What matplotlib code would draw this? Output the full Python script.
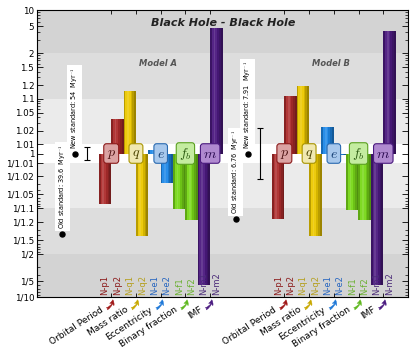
import numpy as np
import matplotlib
matplotlib.use('Agg')
import matplotlib.pyplot as plt
import matplotlib.colors as mcolors
from matplotlib.ticker import FixedLocator, FixedFormatter, NullFormatter

plt.rcParams['mathtext.fontset'] = 'cm'

# ---------------- data ----------------
categories = ['N-p1', 'N-p2', 'N-q1', 'N-q2', 'N-e1', 'N-e2', 'N-f1', 'N-f2', 'N-m1', 'N-m2']
group_names = ['Orbital Period', 'Mass ratio', 'Eccentricity', 'Binary fraction', 'IMF']
group_symbols = ['$p$', '$q$', '$e$', '$f_b$', '$m$']
model_names = ['Model A', 'Model B']
model_a = [0.925, 1.037, 1.153, 0.706, 1.004, 0.973, 0.906, 0.843, 0.168, 4.59]
model_b = [0.855, 1.117, 1.197, 0.706, 1.024, 0.998, 0.902, 0.843, 0.173, 4.18]
old_rate = [39.6, 6.76]
new_rate = [54, 7.91]
new_err = [0.4, 0.18]
ytick_values = [10, 5, 2, 1.5, 1.2, 1.1, 1.05, 1.02, 1.01, 1,
                1/1.01, 1/1.02, 1/1.05, 1/1.1, 1/1.2, 1/1.5, 1/2, 1/5, 1/10]
ytick_labels = ['10', '5', '2', '1.5', '1.2', '1.1', '1.05', '1.02', '1.01', '1',
                '1/1.01', '1/1.02', '1/1.05', '1/1.1', '1/1.2', '1/1.5', '1/2', '1/5', '1/10']

# ---------------- styles ----------------
bar_colors = ['#ad2c2c', '#ecc800', '#1e88e8', '#78d818', '#4c1a80']
tick_colors = ['#8b1a1a', '#b5a020', '#2866c0', '#6ab030', '#4a2a78']
box_face = ['#dba3a3', '#f0e8b0', '#a8c8ec', '#c4eca0', '#b08ad0']
box_edge = ['#8b1a1a', '#a89400', '#2a6ab0', '#5aa020', '#4a1a7e']
sym_color = ['#4a1010', '#4a4200', '#103a70', '#2a5a10', '#2a0a50']
arrow_colors = ['#a01818', '#c8a800', '#1e78d8', '#60b820', '#4a1a80']

H = 0.2


def fwd(v):
    v = np.clip(np.nan_to_num(np.asarray(v, dtype=float), nan=1.0), 1e-6, 1e6)
    r = np.where(v >= 1, v, 1.0 / v)
    u = r - 1.0
    s = np.sign(v - 1.0)
    t = np.where(u >= 0.01, H + np.log10(np.maximum(u, 1e-12)) + 2.0, H * u / 0.01)
    return s * t


def inv(t):
    t = np.clip(np.nan_to_num(np.asarray(t, dtype=float)), -10, 10)
    a = np.abs(t)
    u = np.where(a >= H, 10.0 ** (a - H - 2.0), 0.01 * a / H)
    r = 1.0 + u
    return np.where(t >= 0, r, 1.0 / r)


def shade(c, f):
    rgb = np.array(mcolors.to_rgb(c))
    if f >= 1:
        rgb = rgb + (1 - rgb) * (f - 1)
    else:
        rgb = rgb * f
    return tuple(np.clip(rgb, 0, 1))


fig = plt.figure(figsize=(4.15, 3.56), dpi=100)
ax = fig.add_axes([0.0892, 0.1657, 0.8940, 0.8062])
ax.set_xlim(-5.5, 24.5)
ax.set_ylim(0.1, 10)
ax.set_yscale('function', functions=(fwd, inv))
ax.set_ylim(0.1, 10)
ax.set_autoscale_on(False)

# background bands
bands = [(2, 10, '#d3d3d3'), (1.1, 2, '#dddddd'), (1.01, 1.1, '#ebebeb'),
         (1/1.01, 1.01, '#ffffff'), (1/1.1, 1/1.01, '#ebebeb'),
         (1/2, 1/1.1, '#dddddd'), (1/10, 1/2, '#d3d3d3')]
for lo, hi, c in bands:
    ax.axhspan(lo, hi, color=c, zorder=0, lw=0)

offsets = [0, 14]
models = [model_a, model_b]
profile = [0.78, 1.05, 1.15, 1.05, 0.9, 0.78, 0.66]
nstr = len(profile)

for off, vals in zip(offsets, models):
    for i, v in enumerate(vals):
        g = i // 2
        x0 = off + i - 0.5
        for k, f in enumerate(profile):
            ax.bar(x0 + (k + 0.5) / nstr, v - 1, bottom=1, width=1.0 / nstr + 0.01,
                   color=shade(bar_colors[g], f), lw=0, zorder=2, align='center')
        ax.text(off + i, 0.006, categories[i], transform=ax.get_xaxis_transform(),
                rotation=90, ha='center', va='bottom', fontsize=6,
                color=tick_colors[g], zorder=5)
    for g in range(5):
        gx = off + 2 * g + 0.5
        ax.text(gx, 1, group_symbols[g], ha='center', va='center', fontsize=10,
                color=sym_color[g], zorder=6,
                bbox=dict(boxstyle='round,pad=0.2', fc=box_face[g], ec=box_edge[g], lw=0.8))
        ax.annotate('', xy=(gx + 0.1, 0), xycoords=ax.get_xaxis_transform(),
                    xytext=(-4, -8.5), textcoords='offset points',
                    arrowprops=dict(arrowstyle='fancy,head_length=0.5,head_width=0.5,tail_width=0.25',
                                    fc=arrow_colors[g], ec=arrow_colors[g], lw=0.3,
                                    connectionstyle='arc3,rad=0.4', shrinkA=0, shrinkB=2,
                                    mutation_scale=7),
                    annotation_clip=False)
        ax.annotate(group_names[g], xy=(gx, 0), xycoords=ax.get_xaxis_transform(),
                    xytext=(-6.3, -8.5), textcoords='offset points',
                    ha='right', va='center', rotation=33, rotation_mode='anchor',
                    fontsize=6.5, annotation_clip=False)

for m, off in enumerate(offsets):
    ratio_old = old_rate[m] / new_rate[m]
    x_old, x_new, x_err = off - 3.45, off - 2.45, off - 1.45
    ax.plot([x_old, x_new], [ratio_old, 1], 'o', color='k', ms=3.6, ls='none', zorder=7)
    ax.annotate(f'Old standard: {old_rate[m]}  Myr$^{{-1}}$', xy=(x_old, ratio_old),
                xytext=(0, 3.2), textcoords='offset points', rotation=90,
                ha='center', va='bottom', fontsize=4.7, zorder=6,
                bbox=dict(boxstyle='square,pad=0.3', fc='white', ec='none'))
    ax.annotate(f'New standard: {new_rate[m]}  Myr$^{{-1}}$', xy=(x_new, 1),
                xytext=(0, 3.2), textcoords='offset points', rotation=90,
                ha='center', va='bottom', fontsize=4.7, zorder=6,
                bbox=dict(boxstyle='square,pad=0.3', fc='white', ec='none'))
    rel = new_err[m] / new_rate[m]
    ax.errorbar([x_err], [1], yerr=[[rel], [rel]], fmt='none', ecolor='k',
                elinewidth=0.8, capsize=2.5, capthick=0.8, zorder=6)
    ax.text(off + 4.3, 0.812, model_names[m], transform=ax.get_xaxis_transform(),
            ha='center', va='center', fontsize=6, fontweight='bold',
            fontstyle='italic', color='#555555', zorder=5)

ax.text(0.501, 0.955, 'Black Hole - Black Hole', transform=ax.transAxes,
        ha='center', va='center', fontsize=8, fontweight='bold',
        fontstyle='italic', color='#222222', zorder=5)

ax.set_xlim(-5.5, 24.5)
ax.set_ylim(0.1, 10)

ax.yaxis.set_major_locator(FixedLocator(ytick_values))
ax.yaxis.set_major_formatter(FixedFormatter(ytick_labels))
minor = []
for k in [-2, -1, 0]:
    for mm in range(1, 10):
        u = mm * 10.0 ** k
        minor.append(1 + u)
        minor.append(1 / (1 + u))
ax.yaxis.set_minor_locator(FixedLocator(minor))
ax.yaxis.set_minor_formatter(NullFormatter())

gx_all = [off + 2 * g + 0.5 for off in offsets for g in range(5)]
ax.set_xticks(gx_all)
ax.set_xticklabels([])
ax.tick_params(axis='x', which='both', direction='in', length=3, width=0.6,
               top=True, bottom=True, labelbottom=False)
ax.tick_params(axis='y', which='major', direction='in', length=4, width=0.6,
               labelsize=6.3, right=True, pad=2)
ax.tick_params(axis='y', which='minor', direction='in', length=2, width=0.5, right=True)
for s in ax.spines.values():
    s.set_linewidth(0.8)
    s.set_zorder(8)

fig.savefig('out.png', dpi=100)
